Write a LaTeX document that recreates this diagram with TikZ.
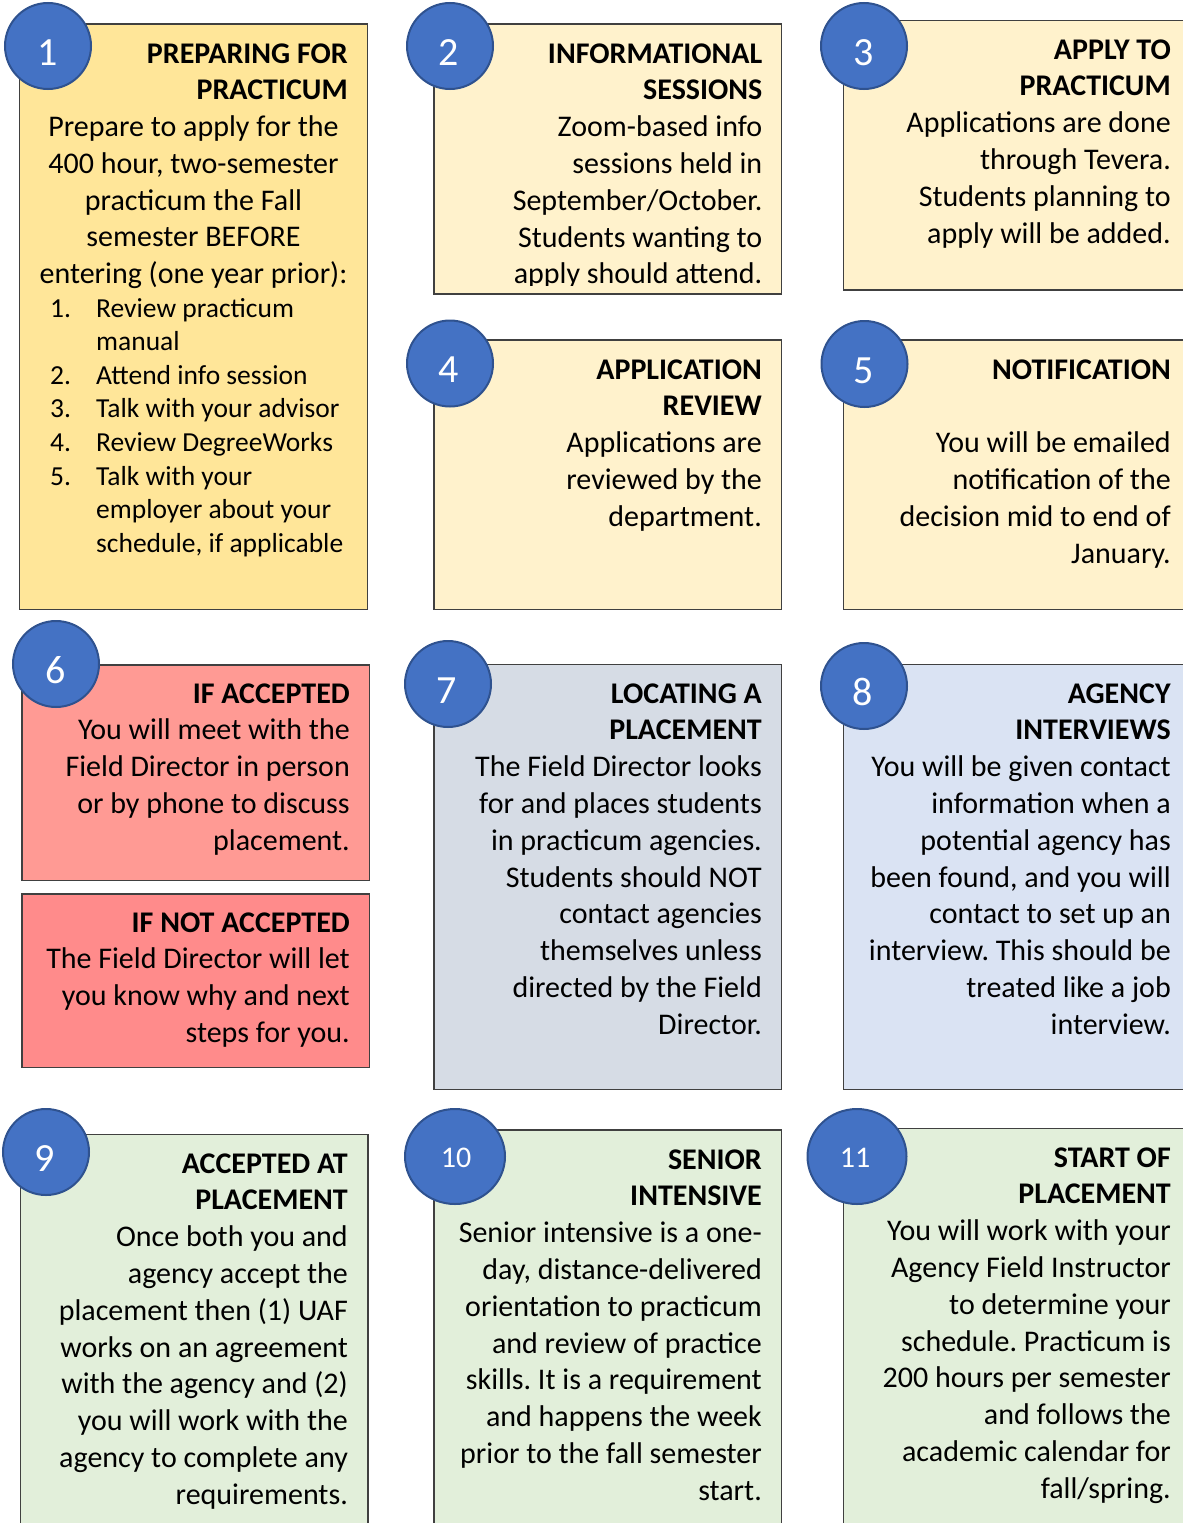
\documentclass[tikz,border=0pt]{standalone}
\usepackage{fontspec}
\setmainfont{Carlito}
\usetikzlibrary{shapes.geometric}
\frenchspacing

\definecolor{cardline}{HTML}{404040}
\definecolor{goldfill}{HTML}{FFE699}
\definecolor{creamfill}{HTML}{FFF2CC}
\definecolor{salmonfill}{HTML}{FF9A94}
\definecolor{redfill}{HTML}{FF8B8B}
\definecolor{slatefill}{HTML}{D6DCE5}
\definecolor{bluefill}{HTML}{DAE3F3}
\definecolor{greenfill}{HTML}{E2EFDA}
\definecolor{badge}{HTML}{4472C4}
\definecolor{badgeline}{HTML}{2F528F}

\newcommand\bodysize{\fontsize{30}{36.8}\selectfont}
\newcommand\listsize{\fontsize{27.5}{33.6}\selectfont}

% text nodes are placed by the baseline of their last line
\tikzset{
  card/.style={draw=cardline, line width=1.8pt},
  badgedisc/.style={circle, draw=badgeline, fill=badge, line width=2pt,
    minimum size=86pt, inner sep=0pt},
  badgeoval/.style={ellipse, draw=badgeline, fill=badge, line width=2pt,
    minimum width=99pt, minimum height=95pt, inner sep=0pt},
  badgenum/.style={text=white, inner sep=0pt, anchor=base,
    font=\fontsize{40}{48}\selectfont},
  badgenumsmall/.style={text=white, inner sep=0pt, anchor=base,
    font=\fontsize{30}{36}\selectfont},
  cardtext/.style={inner sep=0pt, font=\bodysize, align=right, anchor=base east},
  listtext/.style={inner sep=0pt, font=\listsize, align=left, anchor=base west},
}

\begin{document}
\begin{tikzpicture}[x=1pt, y=-1pt]
\clip (0,0) rectangle (1183,1523);

% ---- cards ----
\draw[card, fill=goldfill]   (19.5,24)    rectangle (367.5,609.5);
\draw[card, fill=creamfill]  (434,24)     rectangle (781.5,294);
\draw[card, fill=creamfill]  (843.5,20.5) rectangle (1190,290);
\draw[card, fill=creamfill]  (434,340)    rectangle (781.5,609.5);
\draw[card, fill=creamfill]  (843.5,340)  rectangle (1190,609.5);
\draw[card, fill=salmonfill] (22,665)     rectangle (369.5,880.5);
\draw[card, fill=redfill]    (22,894)     rectangle (369.5,1067.5);
\draw[card, fill=slatefill]  (434,664.5)  rectangle (781.5,1089.5);
\draw[card, fill=bluefill]   (843.5,664.5) rectangle (1190,1089.5);
\draw[card, fill=greenfill]  (20.5,1134.5) rectangle (368,1530);
\draw[card, fill=greenfill]  (434,1130)   rectangle (781.5,1530);
\draw[card, fill=greenfill]  (843.5,1128.5) rectangle (1190,1530);

% ---- numbered badges ----
\node[badgedisc] (c1) at (48,46) {};
\node[badgedisc] (c2) at (450,46) {};
\node[badgedisc] (c3) at (864,46) {};
\node[badgedisc] (c4) at (450,363.5) {};
\node[badgedisc] (c5) at (864.5,364) {};
\node[badgedisc] (c6) at (56,664) {};
\node[badgedisc] (c7) at (448,684) {};
\node[badgedisc] (c8) at (864,686) {};
\node[badgedisc] (c9) at (46,1152) {};
\node[badgeoval, minimum width=100pt] (c10) at (455,1156.5) {};
\node[badgeoval] (c11) at (857,1156.5) {};

\node[badgenum] (n1) at (47.5,65) {1};
\node[badgenum] (n2) at (449,65) {2};
\node[badgenum] (n3) at (863.5,65) {3};
\node[badgenum] (n4) at (448.5,382.5) {4};
\node[badgenum] (n5) at (864,383) {5};
\node[badgenum] (n6) at (55.5,683) {6};
\node[badgenum] (n7) at (447,703) {7};
\node[badgenum] (n8) at (863,705) {8};
\node[badgenum] (n9) at (45,1171) {9};
\node[badgenumsmall] (n10) at (456,1167) {10};
\node[badgenumsmall] (n11) at (855,1167) {11};

% ---- card 1 ----
\node[cardtext] (h1) at (348,99.8) {\textbf{PREPARING FOR}\\\textbf{PRACTICUM}};
\node[cardtext, align=center, anchor=base] (b1) at (193.5,283.6)
  {Prepare to apply for the\\400 hour, two-semester\\practicum the Fall\\semester BEFORE\\entering (one year prior):};
\node[listtext] (l1num) at (50,552.2) {1.\\\mbox{}\\2.\\3.\\4.\\5.\\\mbox{}\\\mbox{}};
\node[listtext] (l1txt) at (96,552.2)
  {Review practicum\\manual\\Attend info session\\Talk with your advisor\\Review DegreeWorks\\Talk with your\\employer about your\\schedule, if applicable};

% ---- card 2 (last line cut by the text frame) ----
\begin{scope}
\clip (434,24) rectangle (781.5,285);
\node[cardtext] (t2) at (762.5,283.8)
  {\textbf{INFORMATIONAL}\\\textbf{SESSIONS}\\Zoom-based info\\sessions held in\\September/October.\\Students wanting to\\apply should attend.};
\end{scope}

% ---- card 3 ----
\node[cardtext] (t3) at (1171,243)
  {\textbf{APPLY TO}\\\textbf{PRACTICUM}\\Applications are done\\through Tevera.\\Students planning to\\apply will be added.};

% ---- card 4 ----
\node[cardtext] (t4) at (762,526.2)
  {\textbf{APPLICATION}\\\textbf{REVIEW}\\Applications are\\reviewed by the\\department.};

% ---- card 5 ----
\node[cardtext] (t5) at (1171,563)
  {\textbf{NOTIFICATION}\\\mbox{}\\You will be emailed\\notification of the\\decision mid to end of\\January.};

% ---- card 6 ----
\node[cardtext] (t6a) at (350,850.2)
  {\textbf{IF ACCEPTED}\\You will meet with the\\Field Director in person\\or by phone to discuss\\placement.};
\node[cardtext] (t6b) at (350,1042.4)
  {\textbf{IF NOT ACCEPTED}\\The Field Director will let\\you know why and next\\steps for you.};

% ---- card 7 ----
\node[cardtext] (t7) at (762,1034.2)
  {\textbf{LOCATING A}\\\textbf{PLACEMENT}\\The Field Director looks\\for and places students\\in practicum agencies.\\Students should NOT\\contact agencies\\themselves unless\\directed by the Field\\Director.};

% ---- card 8 ----
\node[cardtext] (t8) at (1171,1034.2)
  {\textbf{AGENCY}\\\textbf{INTERVIEWS}\\You will be given contact\\information when a\\potential agency has\\been found, and you will\\contact to set up an\\interview. This should be\\treated like a job\\interview.};

% ---- card 9 ----
\node[cardtext] (t9) at (348,1504.2)
  {\textbf{ACCEPTED AT}\\\textbf{PLACEMENT}\\Once both you and\\agency accept the\\placement then (1) UAF\\works on an agreement\\with the agency and (2)\\you will work with the\\agency to complete any\\requirements.};

% ---- card 10 ----
\node[cardtext] (t10) at (762,1500.2)
  {\textbf{SENIOR}\\\textbf{INTENSIVE}\\Senior intensive is a one-\\day, distance-delivered\\orientation to practicum\\and review of practice\\skills. It is a requirement\\and happens the week\\prior to the fall semester\\start.};

% ---- card 11 ----
\node[cardtext] (t11) at (1171,1498.2)
  {\textbf{START OF}\\\textbf{PLACEMENT}\\You will work with your\\Agency Field Instructor\\to determine your\\schedule. Practicum is\\200 hours per semester\\and follows the\\academic calendar for\\fall/spring.};
\end{tikzpicture}
\end{document}
